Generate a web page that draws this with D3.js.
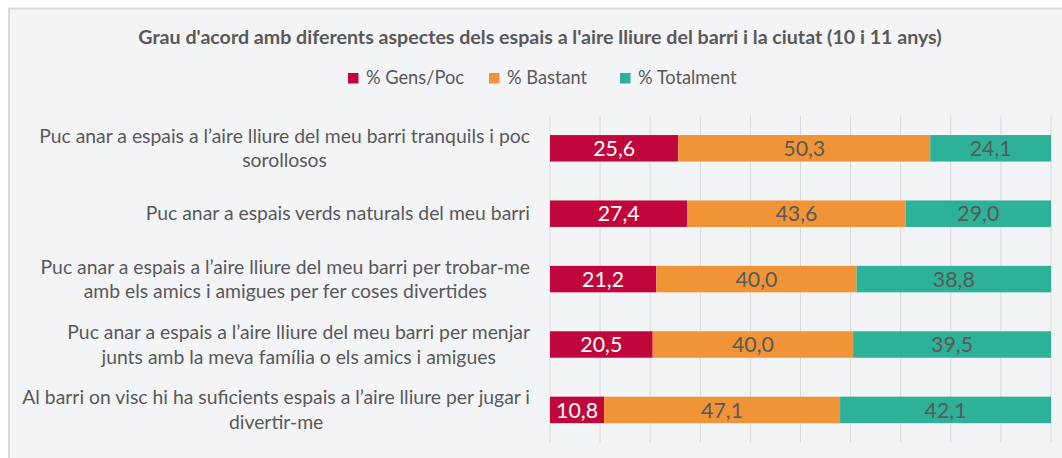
<!DOCTYPE html>
<html>
<head>
<meta charset="utf-8">
<script src="https://cdn.jsdelivr.net/npm/d3@7"></script>
<style>
  body { margin: 0; background: #ffffff; }
  svg text { font-family: Lato, "Open Sans", sans-serif; }
</style>
</head>
<body>
<svg id="chart" width="1062" height="458"></svg>
<script>
// Survey answers (10 and 11 year olds), percentages per statement
const categoryLines = [
  ["Puc anar a espais a l\u2019aire lliure del meu barri tranquils i poc", "sorollosos"],
  ["Puc anar a espais verds naturals del meu barri"],
  ["Puc anar a espais a l\u2019aire lliure del meu barri per trobar-me", "amb els amics i amigues per fer coses divertides"],
  ["Puc anar a espais a l\u2019aire lliure del meu barri per menjar", "junts amb la meva família o els amics i amigues"],
  ["Al barri on visc hi ha suficients espais a l\u2019aire lliure per jugar i", "divertir-me"]
];
const gensPoc   = [25.6, 27.4, 21.2, 20.5, 10.8];
const bastant   = [50.3, 43.6, 40.0, 40.0, 47.1];
const totalment = [24.1, 29.0, 38.8, 39.5, 42.1];
const seriesNames = ["% Gens/Poc", "% Bastant", "% Totalment"];
const seriesColors = ["#c0063a", "#f09437", "#2db198"];
const labelColors = ["#ffffff", "#595959", "#595959"];
const gridTicks = [0, 10, 20, 30, 40, 50, 60, 70, 80, 90, 100];
const titleText = "Grau d'acord amb diferents aspectes dels espais a l'aire lliure del barri i la ciutat (10 i 11 anys)";

const svg = d3.select("#chart");
const W = 1062, H = 458;

// resize a text element so its rendered width equals the wanted width
function fitWidth(sel, width) {
  const base = +sel.attr("font-size");
  const w = sel.node().getComputedTextLength();
  const size = base * width / w;
  sel.attr("font-size", size);
  return size;
}

// chart area panel
svg.append("rect")
  .attr("x", 9).attr("y", 8.5)
  .attr("width", W + 10).attr("height", H + 10)
  .attr("fill", "#f3f4f6")
  .attr("stroke", "#d9d9d9").attr("stroke-width", 2);

const plot = { left: 550, right: 1051, top: 115.6, bottom: 442.6 };

const x = d3.scaleLinear().domain([0, 100]).range([plot.left, plot.right]);
const y = d3.scaleBand()
  .domain(d3.range(categoryLines.length))
  .range([plot.top, plot.bottom])
  .paddingInner(0.595).paddingOuter(0.2975);

// rows for stacking
const rows = categoryLines.map((c, i) => ({
  idx: i,
  [seriesNames[0]]: gensPoc[i],
  [seriesNames[1]]: bastant[i],
  [seriesNames[2]]: totalment[i]
}));
const stacked = d3.stack().keys(seriesNames)(rows);

// vertical gridlines
svg.append("g")
  .selectAll("line")
  .data(gridTicks)
  .join("line")
  .attr("x1", d => x(d)).attr("x2", d => x(d))
  .attr("y1", plot.top).attr("y2", plot.bottom)
  .attr("stroke", "#d9d9d9").attr("stroke-width", 1);

// bars
const layers = svg.append("g")
  .selectAll("g")
  .data(stacked)
  .join("g")
  .attr("fill", (d, i) => seriesColors[i]);

layers.selectAll("rect")
  .data(d => d)
  .join("rect")
  .attr("x", d => x(d[0]))
  .attr("width", d => x(d[1]) - x(d[0]))
  .attr("y", d => y(d.data.idx))
  .attr("height", y.bandwidth());

// value labels
const fmt = v => v.toFixed(1).replace(".", ",");
const valueLabels = svg.append("g")
  .selectAll("g")
  .data(stacked)
  .join("g")
  .attr("fill", (d, i) => labelColors[i])
  .selectAll("text")
  .data(d => d)
  .join("text")
  .attr("x", d => (x(d[0]) + x(d[1])) / 2)
  .attr("y", d => y(d.data.idx) + y.bandwidth() / 2)
  .attr("dy", "0.36em")
  .attr("text-anchor", "middle")
  .attr("font-size", 20)
  .text(d => fmt(d[1] - d[0]));
// digits are 42px wide for a "50,3" label
{
  const probe = svg.append("text").attr("font-size", 20).text("50,3");
  const s = fitWidth(probe, 42);
  probe.remove();
  valueLabels.attr("font-size", s);
}

// category labels: wrapped lines centered on the widest line, right-aligned block
const labelRight = 530;
const lineGap = 24.5;
let catSize;
{
  const probe = svg.append("text").attr("font-size", 19).text(categoryLines[4][0]);
  catSize = fitWidth(probe, 508);
  probe.remove();
}
categoryLines.forEach((lines, i) => {
  const cy = y(i) + y.bandwidth() / 2;
  const g = svg.append("g");
  const texts = lines.map((ln, k) => g.append("text")
    .attr("font-size", catSize)
    .attr("fill", "#595959")
    .attr("text-anchor", "middle")
    .attr("y", cy + (k - (lines.length - 1) / 2) * lineGap)
    .attr("dy", "0.35em")
    .text(ln));
  const maxW = d3.max(texts, t => t.node().getComputedTextLength());
  texts.forEach(t => t.attr("x", labelRight - maxW / 2));
});

// title
const title = svg.append("text")
  .attr("x", 540).attr("y", 37)
  .attr("dy", "0.35em")
  .attr("text-anchor", "middle")
  .attr("font-size", 18)
  .attr("font-weight", "bold")
  .attr("fill", "#595959")
  .text(titleText);
fitWidth(title, 804);

// legend
const legendItemX = [348, 489, 620];
const legend = svg.append("g");
let legSize;
{
  const probe = svg.append("text").attr("font-size", 18).text(seriesNames[0]);
  legSize = fitWidth(probe, 98);
  probe.remove();
}
seriesNames.forEach((name, i) => {
  legend.append("rect")
    .attr("x", legendItemX[i]).attr("y", 73)
    .attr("width", 10.5).attr("height", 10.5)
    .attr("fill", seriesColors[i]);
  legend.append("text")
    .attr("x", legendItemX[i] + 18).attr("y", 78)
    .attr("dy", "0.35em")
    .attr("font-size", legSize)
    .attr("fill", "#595959")
    .text(name);
});
</script>
</body>
</html>
